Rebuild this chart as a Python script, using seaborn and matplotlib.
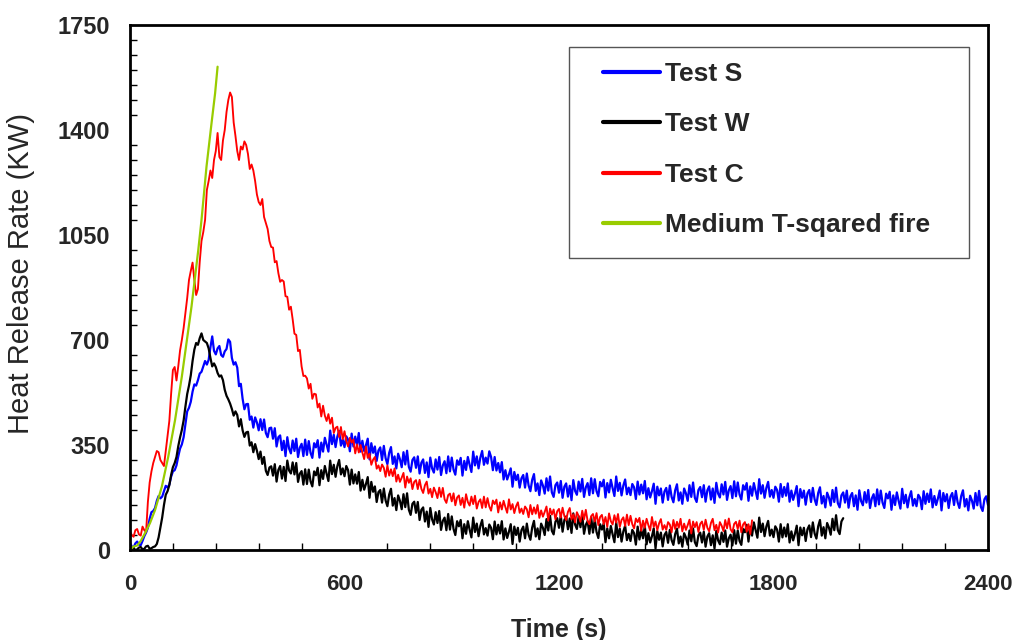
import numpy as np
import pandas as pd
import matplotlib
matplotlib.use('Agg')
import matplotlib.pyplot as plt
import seaborn as sns
from matplotlib.ticker import MultipleLocator
from matplotlib.patches import Rectangle

# Heat release rate readings, one value every STEP_S seconds from t = 0
# (20 values per row = 100 s)
STEP_S = 5

test_s_kw = [
    24, 12, 8, 22, 28, 18, 16, 30, 46, 58, 74, 104, 126, 130, 140, 164, 180, 172, 178, 196,
    214, 208, 218, 244, 262, 266, 282, 312, 338, 352, 376, 420, 462, 474, 494, 528, 552, 548, 566, 588,
    594, 612, 630, 618, 634, 676, 712, 664, 652, 672, 680, 650, 644, 662, 670, 702, 694, 640, 618, 626,
    608, 546, 554, 504, 469, 486, 487, 434, 445, 408, 442, 425, 399, 436, 400, 435, 390, 376, 406, 408,
    371, 406, 345, 376, 382, 333, 364, 313, 376, 338, 322, 365, 330, 371, 310, 341, 354, 313, 368, 317,
    363, 324, 307, 356, 342, 366, 308, 358, 328, 374, 351, 328, 398, 353, 384, 343, 378, 397, 348, 368,
    343, 379, 368, 329, 388, 345, 378, 349, 390, 328, 364, 330, 349, 371, 302, 356, 324, 345, 297, 332,
    342, 300, 347, 306, 286, 324, 343, 287, 312, 272, 321, 303, 276, 326, 285, 331, 277, 261, 300, 309,
    274, 312, 255, 291, 302, 257, 292, 243, 308, 272, 258, 302, 268, 310, 250, 282, 296, 256, 312, 262,
    308, 268, 251, 299, 284, 307, 248, 297, 267, 310, 284, 260, 328, 282, 312, 272, 308, 330, 284, 308,
    288, 329, 310, 266, 310, 265, 290, 259, 293, 235, 266, 235, 252, 272, 211, 260, 233, 251, 208, 239,
    250, 208, 255, 215, 196, 234, 253, 197, 222, 183, 232, 215, 188, 239, 198, 245, 192, 177, 216, 225,
    191, 230, 174, 211, 222, 178, 214, 166, 233, 197, 184, 228, 195, 237, 177, 209, 223, 183, 239, 189,
    236, 196, 179, 227, 212, 234, 175, 223, 192, 234, 206, 180, 245, 197, 224, 182, 215, 235, 186, 208,
    183, 220, 209, 170, 228, 185, 218, 189, 230, 169, 206, 175, 196, 221, 154, 211, 182, 205, 158, 195,
    207, 167, 215, 177, 159, 199, 219, 165, 192, 154, 205, 189, 164, 216, 177, 225, 174, 160, 200, 210,
    176, 216, 161, 199, 212, 168, 205, 157, 224, 188, 175, 219, 185, 227, 167, 199, 213, 173, 229, 179,
    225, 185, 168, 216, 201, 223, 164, 212, 181, 223, 196, 170, 236, 188, 216, 174, 207, 227, 178, 200,
    174, 211, 200, 161, 220, 177, 210, 181, 222, 161, 198, 167, 188, 213, 146, 203, 174, 198, 151, 189,
    200, 160, 207, 169, 150, 190, 209, 155, 180, 142, 191, 175, 148, 200, 160, 208, 156, 142, 182, 192,
    158, 198, 141, 179, 190, 146, 182, 134, 199, 163, 149, 193, 158, 200, 140, 172, 186, 146, 202, 152,
    198, 158, 140, 188, 172, 194, 134, 182, 150, 192, 164, 138, 204, 156, 184, 142, 176, 196, 148, 170,
    146, 184, 174, 136, 196, 154, 188, 160, 202, 142, 180, 150, 172, 198, 132, 190, 162, 186, 140, 178,
    190, 150, 197, 159, 140, 180, 199, 145, 170, 132, 181, 165, 138, 190, 149, 197, 144, 130, 169, 179,
    150,
]

test_w_kw = [
    0, 4, 6, 0, 2, 8, 10, 2, 4, 12, 14, 4, 6, 10, 12, 20, 42, 74, 108, 150,
    184, 196, 216, 250, 276, 290, 310, 346, 375, 400, 432, 478, 520, 548, 582, 630, 668, 690, 684, 706,
    722, 700, 695, 690, 672, 640, 612, 622, 610, 590, 578, 582, 566, 534, 514, 502, 488, 470, 448, 462,
    450, 412, 436, 399, 377, 392, 394, 348, 359, 326, 353, 331, 303, 328, 287, 310, 264, 250, 275, 279,
    248, 286, 228, 267, 280, 238, 277, 230, 298, 265, 255, 292, 252, 290, 227, 254, 263, 218, 269, 220,
    268, 229, 212, 262, 249, 274, 216, 266, 237, 280, 254, 230, 298, 253, 284, 244, 280, 300, 252, 272,
    246, 280, 266, 218, 268, 222, 252, 221, 260, 198, 234, 201, 220, 243, 174, 227, 194, 212, 160, 193,
    200, 158, 205, 165, 146, 185, 204, 148, 173, 133, 182, 164, 136, 186, 143, 189, 134, 117, 154, 161,
    124, 160, 100, 134, 142, 95, 128, 77, 140, 102, 85, 126, 90, 130, 67, 97, 108, 66, 120, 68,
    112, 70, 50, 96, 79, 100, 39, 86, 54, 96, 68, 42, 108, 60, 88, 46, 80, 100, 52, 73,
    48, 85, 74, 36, 95, 52, 84, 55, 96, 35, 72, 40, 61, 86, 20, 78, 50, 74, 28, 66,
    78, 39, 88, 51, 34, 75, 97, 45, 72, 36, 88, 74, 50, 103, 65, 114, 64, 52, 94, 106,
    74, 115, 61, 100, 112, 69, 105, 57, 122, 85, 70, 112, 76, 116, 54, 84, 96, 54, 109, 58,
    102, 60, 40, 86, 68, 88, 26, 72, 39, 80, 52, 26, 92, 43, 71, 28, 62, 81, 33, 54,
    30, 67, 56, 18, 78, 35, 68, 39, 80, 19, 56, 25, 46, 72, 5, 63, 34, 58, 12, 50,
    60, 24, 67, 33, 17, 53, 71, 22, 45, 11, 56, 42, 18, 65, 29, 72, 26, 13, 49, 58,
    25, 61, 11, 45, 56, 16, 49, 5, 64, 32, 19, 58, 27, 65, 11, 39, 51, 15, 66, 21,
    65, 30, 17, 70, 59, 84, 28, 78, 48, 92, 66, 41, 108, 60, 88, 46, 78, 97, 48, 68,
    43, 79, 68, 28, 86, 42, 75, 45, 86, 25, 62, 32, 54, 81, 16, 75, 49, 74, 30, 69,
    82, 43, 92, 55, 38, 79, 100, 48, 76, 39, 90, 75, 51, 104, 66, 116, 66, 53, 95, 106,
]

test_c_kw = [
    62, 50, 44, 66, 70, 52, 48, 78, 66, 60, 160, 225, 262, 290, 310, 330, 326, 300, 290, 280,
    330, 380, 430, 520, 600, 610, 565, 612, 665, 700, 740, 790, 840, 900, 930, 958, 900, 850, 870, 960,
    1030, 1060, 1100, 1200, 1230, 1265, 1240, 1300, 1330, 1390, 1310, 1300, 1365, 1400, 1460, 1500, 1525, 1510, 1425, 1380,
    1330, 1300, 1345, 1335, 1362, 1350, 1320, 1270, 1285, 1265, 1230, 1185, 1160, 1150, 1170, 1110, 1090, 1070, 1030, 1010,
    1008, 959, 963, 923, 894, 900, 895, 846, 844, 801, 811, 769, 721, 717, 663, 667, 612, 580, 581, 572,
    538, 554, 504, 521, 519, 475, 488, 445, 481, 448, 430, 453, 421, 441, 390, 407, 411, 377, 410, 369,
    396, 363, 345, 374, 358, 368, 322, 352, 325, 350, 325, 303, 345, 307, 321, 284, 301, 310, 271, 282,
    263, 285, 274, 244, 282, 248, 269, 246, 272, 228, 251, 227, 241, 257, 208, 245, 224, 239, 203, 227,
    233, 203, 234, 204, 190, 216, 228, 188, 204, 176, 208, 193, 173, 208, 177, 207, 169, 157, 183, 188,
    162, 189, 149, 175, 182, 150, 174, 141, 186, 160, 148, 178, 153, 181, 138, 160, 169, 140, 178, 142,
    173, 145, 131, 165, 153, 168, 125, 159, 135, 164, 143, 124, 169, 135, 153, 123, 146, 159, 124, 138,
    120, 145, 136, 109, 150, 119, 142, 121, 150, 107, 132, 111, 127, 145, 98, 138, 118, 135, 102, 129,
    137, 108, 141, 113, 100, 127, 140, 102, 119, 92, 126, 113, 94, 131, 102, 134, 97, 86, 113, 120,
    95, 123, 83, 110, 117, 86, 110, 77, 122, 96, 85, 116, 91, 120, 77, 100, 109, 80, 118, 83,
    114, 86, 72, 105, 93, 107, 64, 98, 74, 104, 83, 65, 110, 77, 95, 66, 89, 103, 68, 83,
    67, 93, 85, 59, 100, 70, 94, 74, 104, 62, 88, 67, 83, 101, 55, 95, 76, 93, 60, 87,
    95, 67, 101, 74, 62, 90, 104, 66, 84, 58, 93, 81, 63, 100, 72, 105, 69, 59, 87, 94,
    70, 98, 59, 85, 93, 61, 86, 53, 99,
]

# Medium t-squared design fire, read at irregular times
tsq_time_s = [0, 9, 20, 30, 42, 56, 70, 89, 107, 126, 145, 163, 172,
              191, 200, 214, 228, 238, 245]
tsq_kw = [0, 11, 15, 30, 56, 90, 133, 211, 311, 433, 578, 733, 811,
          1000, 1100, 1278, 1422, 1522, 1611]

series_names = ['Test S', 'Test W', 'Test C', 'Medium T-sqared fire']
series_colors = ['#0000FF', '#000000', '#FF0000', '#99CC00']
series_widths = [1.6, 1.6, 1.35, 1.6]

x_ticks = [0, 600, 1200, 1800, 2400]
y_ticks = [0, 350, 700, 1050, 1400, 1750]


def build_frame():
    parts = []
    for name, vals in zip(series_names[:3], [test_s_kw, test_w_kw, test_c_kw]):
        parts.append(pd.DataFrame({'Time': np.arange(len(vals)) * STEP_S,
                                   'HRR': vals, 'Series': name}))
    parts.append(pd.DataFrame({'Time': tsq_time_s, 'HRR': tsq_kw,
                               'Series': series_names[3]}))
    return pd.concat(parts, ignore_index=True)


def plot_hrr():
    df = build_frame()

    sns.set_theme(style="white")
    plt.rcParams['font.family'] = ['Liberation Sans', 'DejaVu Sans']

    fig = plt.figure(figsize=(10.15, 6.4), dpi=100)
    ax = fig.add_axes([130 / 1015, 1 - 550 / 640, 858 / 1015, 525 / 640])

    for name, color, lw in zip(series_names, series_colors, series_widths):
        sns.lineplot(data=df[df['Series'] == name], x='Time', y='HRR',
                     color=color, linewidth=lw, label=name, ax=ax,
                     estimator=None, sort=False)

    ax.set_xlim(0, 2400)
    ax.set_ylim(0, 1750)
    ax.set_xticks(x_ticks)
    ax.set_yticks(y_ticks)
    ax.xaxis.set_minor_locator(MultipleLocator(120))
    ax.yaxis.set_minor_locator(MultipleLocator(50))
    ax.tick_params(which='major', direction='inout', length=13, width=1.2,
                   color='black', top=False, right=False)
    ax.tick_params(which='minor', direction='in', length=5, width=1.0,
                   color='black', top=False, right=False,
                   bottom=True, left=True)
    ax.tick_params(axis='y', which='major', labelsize=17, pad=8)
    ax.tick_params(axis='x', which='major', labelsize=16, pad=11)
    for lbl in ax.get_xticklabels() + ax.get_yticklabels():
        lbl.set_fontweight('bold')

    for side in ['left', 'bottom', 'top', 'right']:
        ax.spines[side].set_visible(True)
        ax.spines[side].set_color('black')
        ax.spines[side].set_linewidth(2.0)

    ax.set_xlabel('Time (s)', fontsize=18, fontweight='bold')
    ax.set_ylabel('Heat Release Rate (KW)', fontsize=21)
    ax.xaxis.set_label_coords(0.5, (550 - 618) / 525)
    ax.yaxis.set_label_coords((35 - 130) / 858, 0.527)

    # legend frame drawn separately so padding can match the original
    ax.add_patch(Rectangle((0.5117, 0.556), 0.978 - 0.5117, 0.958 - 0.556,
                           transform=ax.transAxes, fill=False,
                           edgecolor='#555555', linewidth=1.0, zorder=5))
    leg = ax.legend(loc='upper left', bbox_to_anchor=((603 - 130) / 858, (550 - 62) / 525),
                    frameon=False, borderpad=0, borderaxespad=0,
                    prop={'size': 19, 'weight': 'bold'},
                    handlelength=2.16, handletextpad=0.2, labelspacing=1.0)
    for line in leg.get_lines():
        line.set_linewidth(3)

    fig.savefig('out.png', dpi=100)
    print("saved out.png")


if __name__ == "__main__":
    plot_hrr()
